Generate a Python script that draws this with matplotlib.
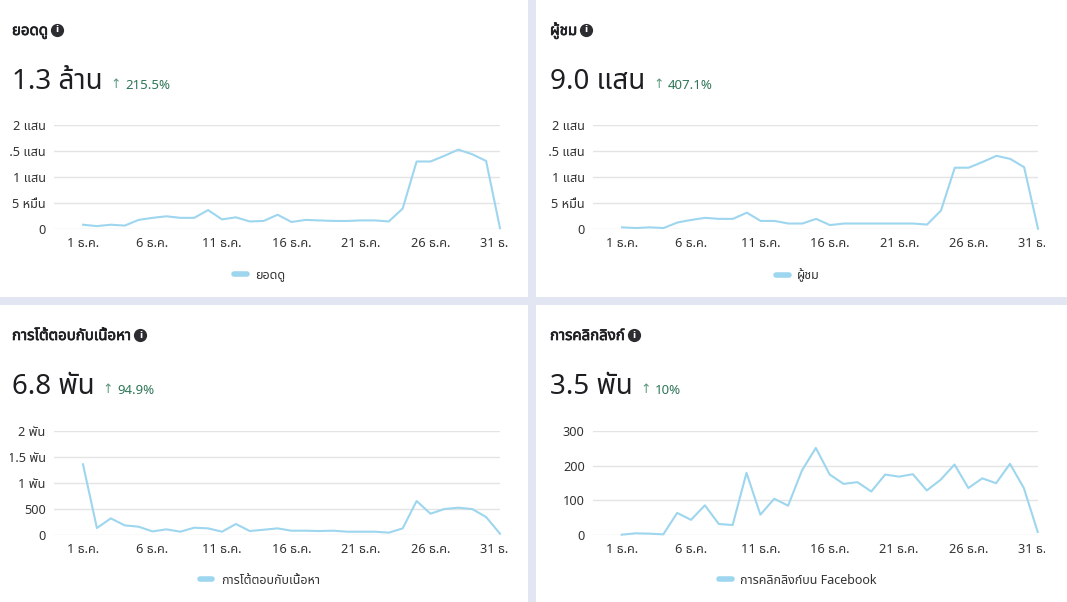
import matplotlib
matplotlib.use('Agg')
import matplotlib.pyplot as plt
import matplotlib.patheffects as pe
from matplotlib import font_manager, ft2font
from matplotlib.lines import Line2D
from matplotlib.patches import Rectangle
from matplotlib.transforms import Bbox, TransformedBbox

days = list(range(1, 32))
xtick_days = [1, 6, 11, 16, 21, 26, 31]
xtick_labels = ['1 ธ.ค.', '6 ธ.ค.', '11 ธ.ค.', '16 ธ.ค.', '21 ธ.ค.', '26 ธ.ค.', '31 ธ.ค.']

views = [7700, 5000, 7700, 6000, 17000, 21000, 24000, 21000, 21000, 36000,
         18000, 22000, 14000, 15000, 27000, 13000, 17000, 16000, 15000, 15000,
         16000, 16000, 14000, 39000, 130000, 130000, 141000, 153000, 144000, 131000,
         1000]
viewers = [2600, 1300, 2600, 1300, 12000, 17000, 21000, 19000, 19000, 31000,
           15000, 15000, 10000, 10000, 19000, 7000, 10000, 10000, 10000, 10000,
           10000, 10000, 8000, 35000, 118000, 118000, 129000, 141000, 135000, 119000,
           0]
engagement = [1357, 129, 315, 180, 154, 64, 103, 58, 135, 122,
              58, 206, 71, 96, 122, 77, 77, 71, 77, 58,
              58, 58, 39, 122, 650, 405, 495, 521, 495, 341,
              19]
link_clicks = [0, 4, 3, 1, 63, 43, 85, 31, 28, 179,
               58, 104, 84, 186, 251, 174, 147, 152, 125, 174,
               168, 175, 128, 159, 203, 135, 163, 149, 205, 135,
               8]

views_ticks = [0, 50000, 100000, 150000, 200000]
views_tick_labels = ['0', '5 หมื่น', '1 แสน', '1.5 แสน', '2 แสน']
engagement_ticks = [0, 500, 1000, 1500, 2000]
engagement_tick_labels = ['0', '500', '1 พัน', '1.5 พัน', '2 พัน']
clicks_ticks = [0, 100, 200, 300]
clicks_tick_labels = ['0', '100', '200', '300']

titles = ['ยอดดู', 'ผู้ชม', 'การโต้ตอบกับเนื้อหา', 'การคลิกลิงก์']
totals = ['1.3 ล้าน', '9.0 แสน', '6.8 พัน', '3.5 พัน']
changes = ['215.5%', '407.1%', '94.9%', '10%']
legend_labels = ['ยอดดู', 'ผู้ชม', 'การโต้ตอบกับเนื้อหา', 'การคลิกลิงก์บน Facebook']


def find_thai_font():
    found = []
    for f in font_manager.fontManager.ttflist:
        try:
            if 0x0E01 in ft2font.FT2Font(f.fname).get_charmap():
                found.append(f.name)
        except Exception:
            pass
    for pref in ['Noto Sans Thai', 'Noto Sans Thai UI', 'Noto Sans', 'Noto Looped Thai']:
        if pref in found:
            return pref
    sans = [n for n in found if 'Sans' in n]
    if sans:
        return sans[0]
    return found[0] if found else 'DejaVu Sans'


thai = find_thai_font()
plt.rcParams['font.family'] = ['Noto Sans', thai, 'DejaVu Sans']

W, H = 1067, 602
LINE = '#9dd6ee'
DARK = '#1c1e21'


def fx(x):
    return x / W


def fy(y):
    return 1 - y / H


# layout of the four cards, pixels from top-left
panels = [
    dict(x0=0, y0=0, x1=528, y1=297, left=54, first=83, right=500, top=125.3, bottom=228.7,
         clip=(10, 508), leg=(260, 275), tx=12,
         data=views, ticks=views_ticks, tlabels=views_tick_labels, ymax=200000),
    dict(x0=536, y0=0, x1=1067, y1=297, left=593, first=622, right=1038, top=125.3, bottom=228.7,
         clip=(548, 1045), leg=(798, 275), tx=550,
         data=viewers, ticks=views_ticks, tlabels=views_tick_labels, ymax=200000),
    dict(x0=0, y0=305, x1=528, y1=602, left=54, first=83, right=500, top=431, bottom=534.7,
         clip=(10, 508), leg=(260, 580), tx=12,
         data=engagement, ticks=engagement_ticks, tlabels=engagement_tick_labels, ymax=2000),
    dict(x0=536, y0=305, x1=1067, y1=602, left=593, first=621.7, right=1037.7, top=431, bottom=534.7,
         clip=(548, 1045), leg=(798, 580), tx=550,
         data=link_clicks, ticks=clicks_ticks, tlabels=clicks_tick_labels, ymax=300),
]

fig = plt.figure(figsize=(W / 100, H / 100), dpi=100, facecolor='#e2e6f3')
renderer = fig.canvas.get_renderer()
bold = [pe.withStroke(linewidth=0.5, foreground=DARK)]

for i, p in enumerate(panels):
    fig.add_artist(Rectangle((fx(p['x0']), fy(p['y1'])), (p['x1'] - p['x0']) / W,
                             (p['y1'] - p['y0']) / H, transform=fig.transFigure,
                             facecolor='white', edgecolor='none', zorder=0))

    # title + info icon
    t = fig.text(fx(p['tx']), fy(p['y0'] + 35), titles[i], fontsize=10.8, fontweight='bold',
                 color=DARK, ha='left', va='baseline', path_effects=bold)
    bb = t.get_window_extent(renderer=renderer)
    cx = bb.x1 + 9
    cy = H * fy(p['y0'] + 30)
    fig.add_artist(Line2D([cx / W], [cy / H], marker='o', markersize=8.5, color='#2b2d31',
                          transform=fig.transFigure))
    fig.text(cx / W, cy / H, 'i', fontsize=6.5, fontweight='bold', color='white',
             ha='center', va='center', family='DejaVu Sans')

    # big total + change
    big = fig.text(fx(p['tx']), fy(p['y0'] + 89), totals[i], fontsize=20, color=DARK,
                   ha='left', va='baseline')
    bb = big.get_window_extent(renderer=renderer)
    ax_ = bb.x1 + 8
    arr = fig.text(ax_ / W, fy(p['y0'] + 88), '↑', fontsize=9, color='#5a9a7b',
                   ha='left', va='baseline', family=['DejaVu Sans'])
    bb = arr.get_window_extent(renderer=renderer)
    fig.text((bb.x1 + 4) / W, fy(p['y0'] + 89), changes[i], fontsize=9.5, color='#2f7757',
             ha='left', va='baseline')

    ax = fig.add_axes([fx(p['left']), fy(p['bottom']), (p['right'] - p['left']) / W,
                       (p['bottom'] - p['top']) / H])
    step = (p['right'] - p['first']) / 30
    ax.set_xlim(1 - (p['first'] - p['left']) / step, 31)
    ax.set_ylim(0, p['ymax'])
    ax.plot(days, p['data'], color=LINE, lw=1.5, label=legend_labels[i], clip_on=False,
            solid_joinstyle='round')
    ax.set_xticks(xtick_days, xtick_labels)
    ax.set_yticks(p['ticks'], p['tlabels'])
    ax.grid(axis='y', color='#e4e4e4', lw=1)
    ax.set_axisbelow(True)
    ax.tick_params(length=0, labelsize=9.2, labelcolor='#333333')
    ax.tick_params(axis='x', pad=6)
    ax.tick_params(axis='y', pad=6)
    for s in ax.spines.values():
        s.set_visible(False)

    clip = TransformedBbox(Bbox.from_extents(fx(p['clip'][0]), fy(p['y1']),
                                             fx(p['clip'][1]), fy(p['y0'])), fig.transFigure)
    for lab in ax.get_xticklabels() + ax.get_yticklabels():
        lab.set_clip_box(clip)
        lab.set_clip_on(True)

    leg = ax.legend(loc='center', bbox_to_anchor=(fx(p['leg'][0]), fy(p['leg'][1])),
                    bbox_transform=fig.transFigure, frameon=False, fontsize=9,
                    handlelength=1.0, handletextpad=0.7, borderpad=0, labelcolor='#333333')
    for h in leg.legend_handles:
        h.set_linewidth(4)
        h.set_solid_capstyle('round')

fig.savefig('out.png', dpi=100, facecolor=fig.get_facecolor())
